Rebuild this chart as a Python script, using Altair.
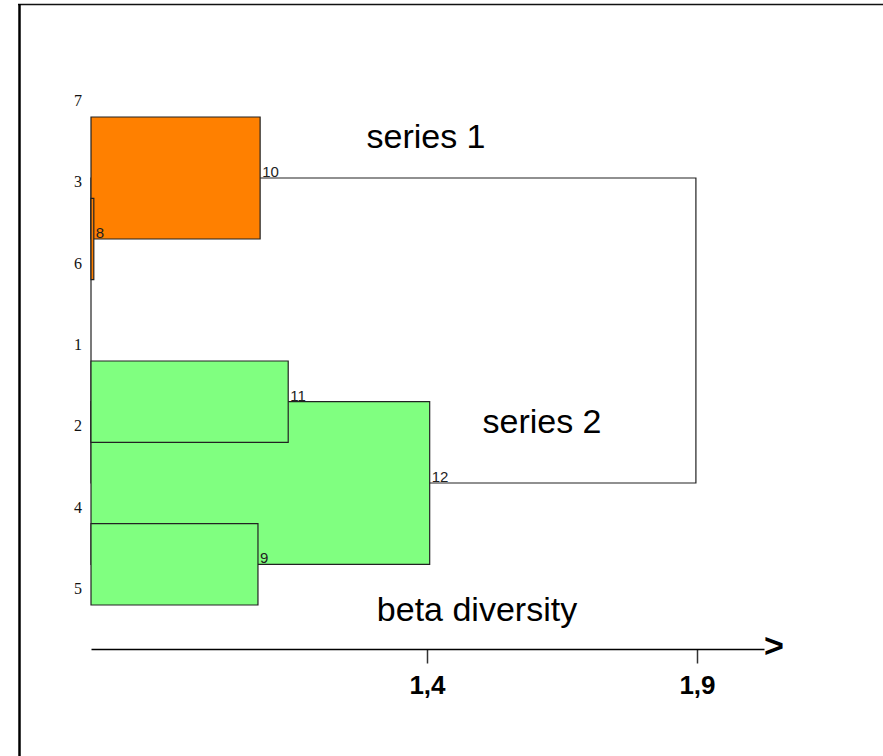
import altair as alt
import pandas as pd

# Leaf order along the vertical axis (top to bottom)
leaf_order = ["7", "3", "6", "1", "2", "4", "5"]

# Agglomerative merges: node id, the two children it joins, merge height, group
merge_nodes = ["8", "9", "10", "11", "12", "13"]
merge_left = ["3", "4", "7", "1", "11", "10"]
merge_right = ["6", "5", "8", "2", "9", "12"]
merge_height = [0.783, 1.087, 1.091, 1.143, 1.405, 1.898]
merge_group = ["series 1", "series 2", "series 1", "series 2", "series 2", "root"]

# Tick values shown on the distance axis
axis_ticks = [1.4, 1.9]

# Height at which the leaves sit (left edge of the tree)
LEAF_LEVEL = 0.7778

# --- tree layout -----------------------------------------------------------
pos = {leaf: i for i, leaf in enumerate(leaf_order)}
rows = []
for node, a, b, h, g in zip(merge_nodes, merge_left, merge_right, merge_height, merge_group):
    pos[node] = (pos[a] + pos[b]) / 2
    rows.append({
        "node": node, "height": h, "group": g,
        "y_top": pos[a], "y_bot": pos[b], "y_mid": pos[node],
        "base": LEAF_LEVEL,
    })
# draw the highest merge first so that lower clusters sit on top of it
boxes = pd.DataFrame(rows).sort_values("height", ascending=False).reset_index(drop=True)
boxes["order"] = range(len(boxes))
node_labels = boxes[boxes["group"] != "root"]

leaves = pd.DataFrame({"leaf": leaf_order, "pos": [pos[l] for l in leaf_order], "base": LEAF_LEVEL})

# --- canvas geometry -------------------------------------------------------
W, H = 673, 589
PAD = {"left": 91, "top": 60, "right": 119, "bottom": 107}
X_MAX = LEAF_LEVEL + W / 540.0

x_scale = alt.Scale(domain=[LEAF_LEVEL, X_MAX], nice=False, zero=False)
y_scale = alt.Scale(domain=[-0.7008, 6.541], nice=False, zero=False, reverse=True)

x_axis = alt.Axis(
    values=axis_ticks, title=None, grid=False,
    domainColor="#000", domainWidth=1.5,
    tickColor="#333", tickWidth=1.5, tickSize=14,
    labelFont="Liberation Sans", labelFontWeight="bold", labelFontSize=26,
    labelColor="#000", labelPadding=9,
    labelExpr="replace(format(datum.value, '.1f'), '.', ',')",
)

color = alt.Color(
    "group:N",
    scale=alt.Scale(domain=["root", "series 1", "series 2"],
                    range=["#ffffff", "#FF8000", "#80FF80"]),
    legend=None,
)

tree = alt.Chart(boxes).mark_rect(stroke="#222", strokeWidth=1.2).encode(
    x=alt.X("base:Q", scale=x_scale, axis=x_axis),
    x2="height:Q",
    y=alt.Y("y_top:Q", scale=y_scale, axis=None),
    y2="y_bot:Q",
    color=color,
    order="order:Q",
)

node_text = alt.Chart(node_labels).mark_text(
    align="left", baseline="alphabetic", dx=2, dy=-1,
    font="Liberation Sans", fontSize=15, color="#222",
).encode(
    x=alt.X("height:Q", scale=x_scale),
    y=alt.Y("y_mid:Q", scale=y_scale),
    text="node:N",
)

leaf_text = alt.Chart(leaves).mark_text(
    align="center", baseline="middle", dx=-13, dy=-16,
    font="Liberation Serif", fontSize=16, color="#111",
).encode(
    x=alt.X("base:Q", scale=x_scale),
    y=alt.Y("pos:Q", scale=y_scale),
    text="leaf:N",
)

def caption(txt, px, py, size=34, weight="normal", align="center"):
    return alt.Chart(pd.DataFrame({"t": [txt]})).mark_text(
        align=align, baseline="middle", font="Liberation Sans",
        fontSize=size, fontWeight=weight, color="#000",
    ).encode(x=alt.value(px), y=alt.value(py), text="t:N")

arrow = caption(">", W, H - 2, size=34, weight="bold", align="left")
series1 = caption("series 1", 335, 78)
series2 = caption("series 2", 451, 363)
beta = caption("beta diversity", 386, 551)

# outer frame (top and left edges)
frame_top = alt.Chart(pd.DataFrame({"k": [0]})).mark_rule(color="#111", strokeWidth=1.5).encode(
    x=alt.value(-73), x2=alt.value(W + PAD["right"] + 2), y=alt.value(-55.5)
)
frame_left = alt.Chart(pd.DataFrame({"k": [0]})).mark_rule(color="#000", strokeWidth=2.5).encode(
    x=alt.value(-71.5), y=alt.value(-56), y2=alt.value(H + PAD["bottom"] + 2)
)

chart = alt.layer(
    frame_top, frame_left, tree, node_text, leaf_text, arrow, series1, series2, beta
).properties(
    width=W, height=H,
    padding=PAD,
    autosize=alt.AutoSizeParams(type="none"),
    background="white",
).configure_view(stroke=None)

chart.save("out.html", embed_options={"renderer": "svg", "actions": False})
